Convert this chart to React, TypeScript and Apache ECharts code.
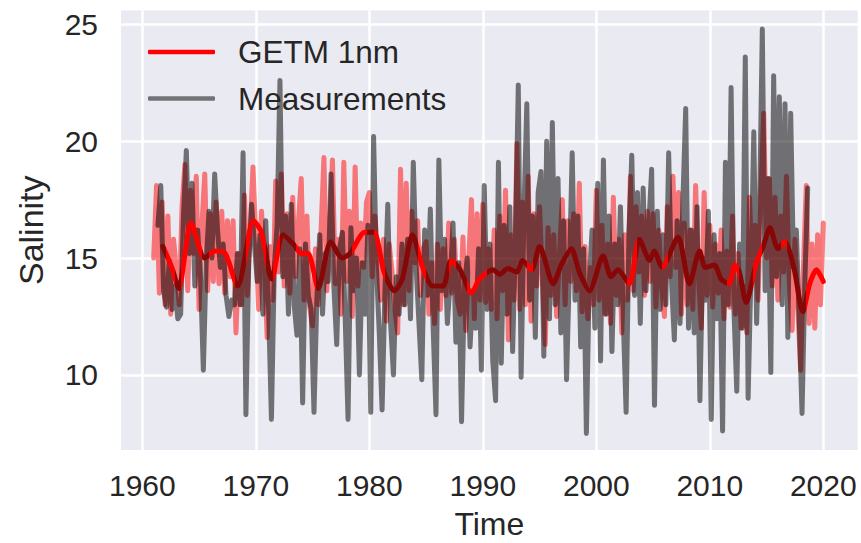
import React, { useEffect, useRef } from 'react';
import * as echarts from 'echarts';

// GETM 1nm model salinity, quarterly from 1961.0
const MODEL_START = 1961.0;
const MODEL_STEP = 0.25;
const modelValues = [
  15.0, 18.1, 13.5, 17.4, // 1961
  13.0, 16.8, 12.6, 15.8, // 1962
  14.5, 13.0, 17.2, 19.0, // 1963
  13.6, 17.9, 15.2, 18.5, // 1964
  12.8, 16.4, 18.6, 13.6, // 1965
  16.9, 14.0, 17.4, 13.9, // 1966
  17.0, 13.5, 16.6, 14.2, // 1967
  16.6, 11.8, 15.2, 13.0, // 1968
  17.7, 13.4, 16.2, 18.9, // 1969
  15.8, 12.8, 17.0, 14.8, // 1970
  11.6, 15.5, 13.2, 18.3, // 1971
  14.4, 18.6, 13.8, 16.9, // 1972
  13.5, 17.6, 14.2, 16.5, // 1973
  18.4, 13.2, 16.8, 12.9, // 1974
  12.1, 15.4, 13.0, 16.2, // 1975
  19.3, 13.6, 16.0, 19.2, // 1976
  13.9, 15.8, 12.6, 19.1, // 1977
  14.0, 17.0, 12.5, 18.9, // 1978
  13.8, 16.5, 14.6, 17.4, // 1979
  17.8, 14.2, 16.8, 15.0, // 1980
  13.2, 15.8, 12.3, 15.6, // 1981
  14.4, 12.8, 11.8, 18.8, // 1982
  13.0, 18.2, 13.6, 17.0, // 1983
  14.8, 16.6, 13.4, 15.4, // 1984
  15.7, 12.6, 14.8, 12.2, // 1985
  15.6, 12.8, 15.4, 13.4, // 1986
  16.5, 13.5, 15.8, 13.2, // 1987
  12.6, 15.9, 11.9, 14.8, // 1988
  17.5, 12.4, 16.9, 13.2, // 1989
  17.3, 13.1, 15.4, 12.8, // 1990
  16.2, 12.4, 16.8, 13.6, // 1991
  17.9, 11.5, 16.0, 13.2, // 1992
  19.9, 12.8, 17.4, 13.0, // 1993
  18.5, 12.3, 16.9, 13.8, // 1994
  17.2, 14.0, 11.3, 16.3, // 1995
  13.4, 16.0, 12.5, 15.1, // 1996
  17.5, 13.0, 16.6, 14.0, // 1997
  16.9, 13.6, 18.2, 12.7, // 1998
  15.5, 12.4, 14.6, 13.0, // 1999
  17.9, 13.2, 16.4, 12.6, // 2000
  15.6, 12.2, 17.6, 13.4, // 2001
  15.8, 11.8, 16.0, 13.2, // 2002
  18.5, 13.6, 17.2, 14.4, // 2003
  16.8, 13.4, 17.0, 14.0, // 2004
  16.9, 12.9, 16.2, 13.8, // 2005
  12.5, 17.2, 14.2, 18.5, // 2006
  14.6, 17.8, 12.6, 16.5, // 2007
  13.0, 16.2, 12.8, 18.1, // 2008
  14.2, 12.0, 17.8, 13.4, // 2009
  16.4, 12.9, 15.6, 13.5, // 2010
  16.2, 12.4, 15.3, 12.9, // 2011
  16.8, 12.6, 15.2, 12.0, // 2012
  13.8, 11.8, 17.6, 14.0, // 2013
  16.4, 13.2, 17.8, 21.2, // 2014
  15.0, 18.4, 13.8, 17.6, // 2015
  13.2, 16.8, 14.4, 18.5, // 2016
  14.0, 11.9, 15.8, 13.0, // 2017
  10.2, 14.6, 18.1, 12.2, // 2018
  15.6, 12.0, 16.0, 13.0, // 2019
  16.5, // 2020
];

// Measurements, quarterly from 1961.375
const MEAS_START = 1961.375;
const MEAS_STEP = 0.25;
const measValues = [
  16.4, 18.1, 13.6, // 1961
  12.9, 14.9, 12.8, 13.8, // 1962
  12.4, 12.6, 16.8, 19.6, // 1963
  15.2, 18.2, 13.8, 16.2, // 1964
  14.2, 10.2, 14.8, 17.0, // 1965
  15.0, 18.6, 16.2, 14.6, // 1966
  15.6, 13.4, 12.5, 13.2, // 1967
  13.0, 15.2, 13.0, 19.5, // 1968
  8.3, 14.8, 17.3, 15.6, // 1969
  14.0, 16.0, 12.6, 16.6, // 1970
  12.8, 8.1, 14.6, 16.4, // 1971
  22.6, 14.2, 16.8, 12.6, // 1972
  17.3, 13.0, 11.7, 15.4, // 1973
  8.8, 15.6, 13.4, 12.8, // 1974
  8.4, 13.2, 16.0, 12.6, // 1975
  15.2, 14.0, 18.6, 13.8, // 1976
  11.3, 15.4, 16.1, 12.4, // 1977
  8.1, 16.3, 13.6, 15.0, // 1978
  10.0, 14.8, 12.6, 16.4, // 1979
  8.4, 20.2, 14.6, 11.8, // 1980
  8.5, 13.6, 17.3, 12.2, // 1981
  10.0, 14.2, 12.6, 15.6, // 1982
  13.0, 15.8, 12.4, 19.1, // 1983
  14.6, 12.2, 9.8, 16.2, // 1984
  13.4, 17.1, 12.0, 8.3, // 1985
  19.2, 13.6, 15.8, 12.2, // 1986
  14.0, 16.5, 11.4, 14.8, // 1987
  8.0, 13.8, 15.0, 11.2, // 1988
  13.6, 12.0, 15.4, 10.2, // 1989
  18.1, 12.8, 15.6, 10.6, // 1990
  8.9, 19.1, 10.5, 16.4, // 1991
  12.6, 17.2, 11.0, 15.8, // 1992
  22.4, 9.9, 17.0, 21.6, // 1993
  13.2, 16.8, 11.6, 17.8, // 1994
  18.7, 10.8, 20.0, 12.4, // 1995
  20.8, 13.0, 18.4, 11.8, // 1996
  16.6, 9.8, 14.4, 19.5, // 1997
  13.2, 16.8, 11.2, 15.4, // 1998
  7.5, 14.0, 16.2, 12.0, // 1999
  18.2, 10.6, 19.2, 12.6, // 2000
  16.8, 11.0, 15.6, 13.0, // 2001
  17.2, 12.4, 8.4, 16.0, // 2002
  19.4, 13.4, 17.8, 12.2, // 2003
  18.0, 13.6, 16.4, 18.8, // 2004
  8.7, 17.0, 12.8, 16.0, // 2005
  13.0, 19.5, 14.0, 11.5, // 2006
  16.6, 12.2, 17.4, 21.4, // 2007
  12.0, 16.2, 11.8, 17.2, // 2008
  8.9, 15.0, 13.2, 17.0, // 2009
  8.1, 16.0, 12.4, 15.2, // 2010
  7.6, 19.1, 13.0, 22.3, // 2011
  12.8, 9.3, 15.6, 12.0, // 2012
  23.6, 9.0, 14.4, 20.4, // 2013
  12.2, 16.8, 24.8, 13.6, // 2014
  18.4, 10.1, 22.8, 14.2, // 2015
  21.9, 13.0, 21.6, 11.6, // 2016
  21.2, 14.6, 16.2, 12.4, // 2017
  8.35, 14.0, 18.0, // 2018
];

// Smoothed model salinity (running mean)
const smoothYears = [
  1961.8, 1962.6, 1963.2, 1964.3, 1965.5, 1966.4, 1967.3, 1968.4, 1969.8, 1970.5,
  1971.4, 1972.4, 1973.3, 1974.0, 1974.6, 1975.5, 1976.6, 1977.6, 1978.3, 1979.6,
  1980.4, 1981.3, 1982.2, 1982.9, 1983.8, 1984.7, 1985.6, 1986.5, 1987.2, 1988.0,
  1989.0, 1989.7, 1990.9, 1991.5, 1992.2, 1993.0, 1993.5, 1994.3, 1995.0, 1996.2,
  1996.9, 1997.8, 1998.5, 1999.4, 2000.6, 2001.3, 2001.9, 2002.9, 2003.8, 2004.7,
  2005.1, 2005.8, 2007.2, 2008.2, 2009.1, 2009.6, 2010.4, 2011.0, 2011.7, 2012.2,
  2012.6, 2013.2, 2014.1, 2014.7, 2015.3, 2016.0, 2016.6, 2017.4, 2018.2, 2018.8,
  2019.4, 2020.0,
];
const smoothValues = [
  15.5, 14.6, 13.7, 16.5, 15.0, 15.3, 15.2, 13.8, 16.6, 16.1,
  14.1, 16.0, 15.6, 15.2, 15.2, 13.7, 15.7, 15.0, 15.2, 16.1,
  16.1, 14.4, 13.6, 14.1, 16.0, 14.6, 13.8, 13.8, 14.9, 14.5,
  13.5, 14.1, 14.5, 14.3, 14.55, 14.4, 14.9, 14.5, 15.5, 13.9,
  14.7, 15.4, 14.4, 13.6, 15.1, 14.2, 14.5, 13.9, 15.8, 14.9,
  15.3, 14.6, 15.9, 13.9, 15.3, 14.6, 14.7, 14.1, 13.9, 14.7,
  14.4, 13.1, 14.8, 15.5, 16.3, 15.4, 15.7, 14.6, 12.7, 13.9,
  14.5, 14.0,
];

// Periods where the smoothed line lies under the measurements and looks dark
const darkRanges = [
  [1961.6, 1962.1], [1962.9, 1963.4], [1965.3, 1965.9], [1968.2, 1969.1],
  [1970.9, 1971.5], [1972.1, 1973.5], [1975.3, 1978.5], [1979.8, 1980.4],
  [1981.4, 1984.3], [1985.0, 1987.0], [1987.6, 1988.6], [1990.4, 1993.9],
  [1994.4, 2002.7], [2003.6, 2005.8], [2006.3, 2011.5], [2012.6, 2013.8],
  [2014.6, 2016.3], [2016.8, 2018.5],
];

const xTicks = [1960, 1970, 1980, 1990, 2000, 2010, 2020];
const yTicks = [10, 15, 20, 25];

const FONT = '"Liberation Sans", Arial, Helvetica, sans-serif';
const TEXT = '#262626';
const DARK = '#870606';

export default function App() {
  const ref = useRef<HTMLDivElement>(null);
  useEffect(() => {
    document.body.style.margin = '0';
    const chart = echarts.init(ref.current as HTMLDivElement, null, { renderer: 'svg' });
    const modelData = modelValues.map((v, i) => [MODEL_START + i * MODEL_STEP, v]);
    const measData = measValues.map((v, i) => [MEAS_START + i * MEAS_STEP, v]);
    const smoothData = smoothYears.map((t, i) => [t, smoothValues[i]]);
    const pieces = darkRanges.map(([a, b]) => ({ gte: a, lt: b, color: DARK }));
    chart.setOption({
      animation: false,
      backgroundColor: '#ffffff',
      textStyle: { fontFamily: FONT },
      grid: {
        left: 121,
        right: 3.3,
        top: 10.5,
        bottom: 93,
        show: true,
        backgroundColor: '#eaeaf2',
        borderWidth: 0,
        containLabel: false,
        outerBoundsMode: 'none',
      },
      legend: {
        left: 143,
        top: 31,
        orient: 'vertical',
        itemWidth: 67,
        itemHeight: 4.5,
        itemGap: 14.5,
        icon: 'roundRect',
        selectedMode: false,
        textStyle: { fontSize: 31.5, color: TEXT, fontFamily: FONT, padding: [0, 0, 0, 18] },
        data: [
          { name: 'GETM 1nm', itemStyle: { color: '#ff0000', opacity: 1 } },
          { name: 'Measurements', itemStyle: { color: '#737377', opacity: 1 } },
        ],
      },
      visualMap: {
        type: 'piecewise',
        show: false,
        seriesIndex: 1,
        dimension: 0,
        pieces,
        outOfRange: { color: '#ff0000' },
      },
      xAxis: {
        type: 'value',
        min: 1958.12,
        max: 2023.03,
        axisLine: { show: false },
        axisTick: { show: false, customValues: xTicks },
        axisLabel: {
          customValues: xTicks,
          formatter: (v: number) => String(v),
          fontSize: 30,
          color: TEXT,
          fontFamily: FONT,
          margin: 20,
        },
        splitLine: { show: true, lineStyle: { color: '#ffffff', width: 2.5 } },
        name: 'Time',
        nameLocation: 'middle',
        nameGap: 60,
        nameTextStyle: { fontSize: 32, lineHeight: 28, color: TEXT, fontFamily: FONT },
      },
      yAxis: {
        type: 'value',
        min: 6.79,
        max: 25.59,
        axisLine: { show: false },
        axisTick: { show: false, customValues: yTicks },
        axisLabel: {
          customValues: yTicks,
          fontSize: 30,
          color: TEXT,
          fontFamily: FONT,
          margin: 23,
        },
        splitLine: { show: true, lineStyle: { color: '#ffffff', width: 2.5 } },
        name: 'Salinity',
        nameLocation: 'middle',
        nameGap: 73,
        nameTextStyle: { fontSize: 34, color: TEXT, fontFamily: FONT },
      },
      series: [
        {
          name: 'GETM 1nm',
          type: 'line',
          data: modelData,
          showSymbol: false,
          symbol: 'none',
          itemStyle: { color: '#ff0000' },
          lineStyle: { color: '#ff0000', width: 5, opacity: 0.5, join: 'round', cap: 'round' },
          z: 2,
        },
        {
          name: 'GETM 1nm smoothed',
          type: 'line',
          data: smoothData,
          smooth: 0.25,
          showSymbol: false,
          symbol: 'none',
          lineStyle: { width: 5, join: 'round', cap: 'round' },
          z: 4,
        },
        {
          name: 'Measurements',
          type: 'line',
          data: measData,
          showSymbol: false,
          symbol: 'none',
          itemStyle: { color: '#000000' },
          lineStyle: { color: '#000000', width: 5, opacity: 0.52, join: 'round', cap: 'round' },
          z: 3,
        },
      ],
    });
    return () => chart.dispose();
  }, []);
  return <div ref={ref} style={{ width: 861, height: 543 }} />;
}
